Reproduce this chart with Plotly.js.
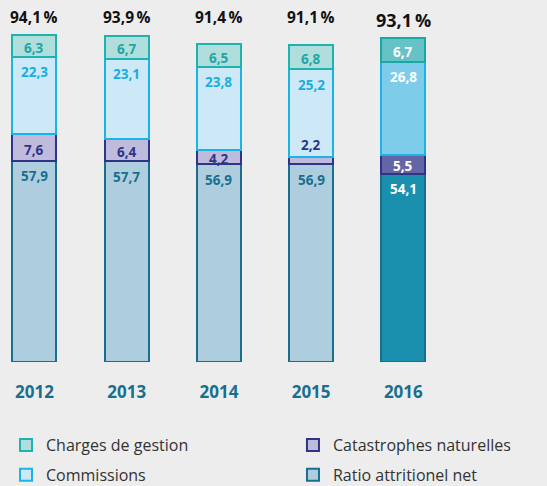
<!DOCTYPE html>
<html>
<head>
<meta charset="utf-8">
<script src="https://cdn.plot.ly/plotly-3.0.1.min.js"></script>
<style>html,body{margin:0;padding:0;background:#ededed;}</style>
</head>
<body>
<div id="chart" style="width:547px;height:486px;"></div>
<script>
// ---- data ----
const years = ['2012', '2013', '2014', '2015', '2016'];
const ratioAttritionel = [57.9, 57.7, 56.9, 56.9, 54.1];
const catastrophes = [7.6, 6.4, 4.2, 2.2, 5.5];
const commissions = [22.3, 23.1, 23.8, 25.2, 26.8];
const charges = [6.3, 6.7, 6.5, 6.8, 6.7];
const seriesNames = ['Ratio attritionel net', 'Catastrophes naturelles', 'Commissions', 'Charges de gestion'];

// ---- style ----
const fmt = v => v.toFixed(1).replace('.', ',');
const FONT = 'Open Sans, sans-serif';
const styles = [
  {fill: '#aecedf', fillHi: '#1b8fae', line: '#1a6f8e', text: '#1a6e8e', legend: 'legend2', rank: 2},
  {fill: '#bfbbdc', fillHi: '#6465a6', line: '#2e3586', text: '#2e3586', legend: 'legend2', rank: 1},
  {fill: '#cde9f7', fillHi: '#7dcdea', line: '#19b5e5', text: '#19ade0', legend: 'legend', rank: 2},
  {fill: '#b0dedd', fillHi: '#66c2c4', line: '#1fb3b0', lineHi: '#19a8a8', text: '#1fa6a6', legend: 'legend', rank: 1}
];
const series = [ratioAttritionel, catastrophes, commissions, charges];
const hiIndex = years.length - 1;

const marginT = 20, marginB = 124, H = 486;
const plotH = H - marginT - marginB;
const yMax = 98.4;
const pxPerUnit = plotH / yMax;

const traces = series.map((vals, s) => ({
  type: 'bar',
  x: years,
  y: vals,
  name: seriesNames[s],
  legend: styles[s].legend,
  legendgroup: 'g' + s,
  legendrank: styles[s].rank,
  width: 0.477,
  marker: {
    color: vals.map((v, i) => i === hiIndex ? styles[s].fillHi : styles[s].fill),
    line: {color: vals.map((v, i) => i === hiIndex ? (styles[s].lineHi || styles[s].line) : styles[s].line), width: 2}
  },
  hoverinfo: 'skip'
}));

const annotations = [];
years.forEach((yr, i) => {
  let base = 0;
  series.forEach((vals, s) => {
    const v = vals[i];
    const top = base + v;
    const hPx = v * pxPerUnit;
    const hi = i === hiIndex;
    const a = {
      x: i, y: top, xref: 'x', yref: 'y',
      text: fmt(v), showarrow: false,
      font: {family: FONT, size: 13.5, weight: 700, color: hi ? '#ffffff' : styles[s].text}
    };
    if (hPx < 12) {
      a.yanchor = 'bottom'; a.yshift = 1;
    } else {
      a.yanchor = 'middle'; a.yshift = -Math.min(15.5, hPx / 2 + 2);
    }
    annotations.push(a);
    base = top;
  });
  const total = series.reduce((acc, vals) => acc + vals[i], 0);
  annotations.push({
    x: i, y: 1, xref: 'x', yref: 'paper', yanchor: 'middle',
    yshift: i === hiIndex ? 0 : 3,
    text: fmt(total) + '\u2009%', showarrow: false,
    font: {family: FONT, size: i === hiIndex ? 18 : 15.5, weight: 700, color: '#111111'}
  });
});

const legendBase = {
  orientation: 'v',
  y: -0.193, yanchor: 'top',
  xanchor: 'left',
  traceorder: 'grouped',
  tracegroupgap: 6,
  font: {family: FONT, size: 16, color: '#333333'},
  bgcolor: 'rgba(0,0,0,0)',
  borderwidth: 0
};

const layout = {
  width: 547, height: H,
  margin: {l: 0, r: 0, t: marginT, b: marginB, pad: 0, autoexpand: false},
  paper_bgcolor: '#ededed',
  plot_bgcolor: '#ededed',
  barmode: 'stack',
  showlegend: true,
  xaxis: {
    type: 'category',
    range: [-0.374, 5.558],
    showgrid: false, zeroline: false, showline: false, ticks: '',
    tickfont: {family: FONT, size: 17, weight: 700, color: '#1a6e8e'},
    ticklabelstandoff: 18,
    fixedrange: true
  },
  yaxis: {
    range: [0, yMax],
    showgrid: false, zeroline: false, showline: false, showticklabels: false, ticks: '',
    fixedrange: true
  },
  legend: Object.assign({}, legendBase, {x: 0.011}),
  legend2: Object.assign({}, legendBase, {x: 0.5356}),
  annotations: annotations
};

Plotly.newPlot('chart', traces, layout, {displayModeBar: false, staticPlot: true});
</script>
</body>
</html>
